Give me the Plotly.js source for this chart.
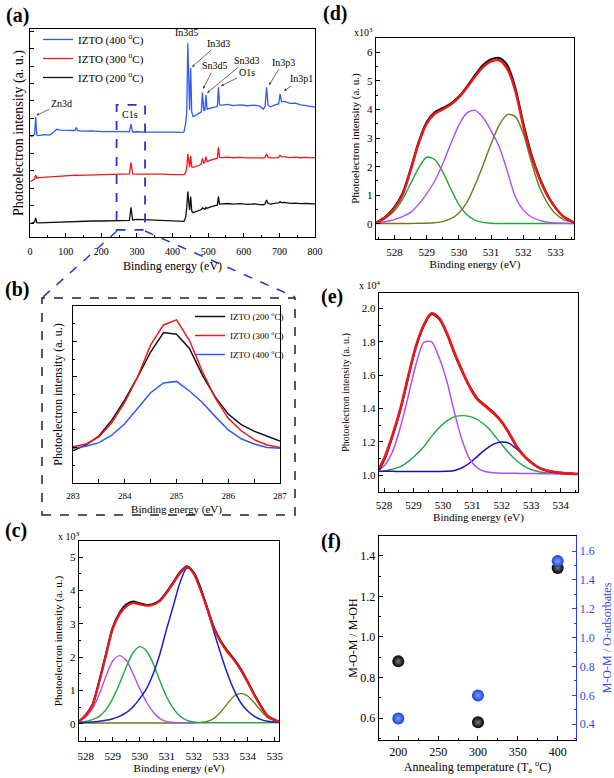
<!DOCTYPE html>
<html>
<head>
<meta charset="utf-8">
<script src="https://cdn.plot.ly/plotly-3.0.1.min.js"></script>
<style>html,body{margin:0;padding:0;background:#fff;}#chart{width:614px;height:778px;}</style>
</head>
<body>
<div id="chart"></div>
<script>
// ---------- (a) XPS survey spectra ----------
const aEnergy = [2,8,13,16,19,25,40,55,65,75,85,100,115,126,130,134,150,175,200,225,250,270,279,283.5,288,300,325,350,375,400,420,432,437,440,443,446,448,451,454,458,465,475,481,484,488,491,494,497,505,515,523,526,529,532,540,555,570,590,610,630,645,655,660,664,668,675,690,698,702,706,715,730,745,760,775,790,800];
const a400 = [48.2,48.6,49.5,57.7,49.0,48.7,49.2,49.0,50.2,51.8,51.4,51.2,51.0,51.2,52.6,51.1,50.9,51.0,50.7,50.8,50.6,50.7,50.6,54.3,50.5,50.6,50.4,50.5,50.3,50.4,50.3,50.4,54.5,60.0,93.1,63.0,61.0,81.2,60.0,57.8,58.6,59.5,60.2,69.4,60.8,61.0,68.3,61.5,62.0,62.3,62.6,63.0,72.0,63.5,63.4,63.8,63.2,63.5,63.1,63.4,62.9,61.4,63.0,72.0,63.5,62.6,63.6,64.0,68.8,65.0,65.2,64.2,64.4,63.5,63.2,62.6,62.4];
const a300 = [26.6,27.5,28.0,29.8,28.3,28.5,28.7,28.9,29.0,29.2,29.3,29.4,29.5,29.6,29.7,29.6,29.7,29.8,29.9,30.0,30.1,30.2,30.3,35.9,30.3,30.2,30.3,30.1,30.2,30.0,30.1,30.0,31.0,33.5,39.9,34.0,33.6,38.9,33.8,33.5,33.8,34.5,35.2,37.8,35.5,36.0,38.6,36.2,36.8,37.2,37.6,37.9,43.1,38.3,38.2,38.4,38.1,38.3,38.0,38.2,38.0,37.9,38.3,39.9,38.4,38.0,38.3,38.2,39.3,38.6,38.5,38.2,38.4,38.1,38.3,38.0,38.2];
const a200 = [6.6,6.8,7.2,9.2,6.9,6.8,6.9,7.0,7.1,7.3,7.3,7.4,7.5,7.5,7.6,7.5,7.6,7.7,7.7,7.8,7.9,7.9,8.0,14.3,8.2,8.5,8.3,8.1,7.9,7.8,7.6,7.5,9.5,14.0,21.8,13.5,13.0,19.4,12.5,11.7,12.2,12.8,13.2,14.0,13.4,13.3,14.2,13.8,14.4,14.8,15.2,15.4,19.6,15.8,15.9,16.1,15.8,16.0,15.7,15.9,15.6,15.5,16.0,17.8,16.1,15.8,16.3,16.4,17.0,16.5,16.6,16.2,16.3,16.0,16.1,15.8,15.9];
const aPeakNames = ['Zn3d','In3d3','Sn3d5','Sn3d3','O1s','In3p3','In3p1'];
const aPeakTipE = [18,454.7,485.6,496.8,536,671,713];
const aPeakTipV = [58.5,81.7,71.2,69.2,72.6,73,70.2];

// ---------- (b) C1s ----------
const bEnergy = [283,283.25,283.5,283.75,284,284.25,284.5,284.75,285,285.25,285.5,285.75,286,286.25,286.5,286.75,287];
const b200 = [18.2,21.5,26.5,35.5,47,60,74,85,84,76,61,48.5,39,33,29.3,26.5,23.7];
const b300 = [20.5,22,26,34,45.5,60,78,89.3,92.2,80.5,63,48,36.5,29.5,24.5,21.5,20.1];
const b400 = [19.6,20.8,22.8,27,33.5,42.5,51,56.5,57.4,52,45.5,37.5,30,25,22,20.1,19.6];

// ---------- (c) O1s fit (x10^3) ----------
const cEnergy = [527.75,528,528.25,528.5,528.75,529,529.25,529.5,529.75,530,530.25,530.5,530.75,531,531.25,531.5,531.75,532,532.25,532.5,532.75,533,533.25,533.5,533.75,534,534.25,534.5,534.75,535.16];
const cData = [0.06,0.26,0.57,1.28,2.08,2.88,3.32,3.57,3.66,3.61,3.56,3.59,3.70,3.95,4.25,4.55,4.72,4.52,4.05,3.47,2.88,2.48,2.18,1.93,1.63,1.26,0.87,0.52,0.23,0.06];
const cFit = [0.06,0.25,0.55,1.25,2.05,2.85,3.28,3.52,3.62,3.58,3.54,3.57,3.68,3.93,4.22,4.52,4.70,4.50,4.02,3.45,2.85,2.45,2.15,1.90,1.60,1.24,0.85,0.50,0.22,0.06];
const cPeak1 = [0.10,0.20,0.45,0.88,1.42,1.88,2.04,1.90,1.50,1.05,0.65,0.35,0.15,0.06,0.04,0.03,0.03,0.03,0.03,0.03,0.03,0.03,0.03,0.03,0.03,0.03,0.03,0.03,0.03,0.03];
const cPeak2 = [0.04,0.07,0.12,0.22,0.42,0.75,1.20,1.70,2.12,2.31,2.18,1.80,1.28,0.80,0.45,0.22,0.10,0.05,0.03,0.03,0.03,0.03,0.03,0.03,0.03,0.03,0.03,0.03,0.03,0.03];
const cPeak3 = [0.03,0.04,0.05,0.07,0.10,0.15,0.22,0.33,0.50,0.75,1.05,1.50,2.10,2.85,3.55,4.25,4.67,4.55,4.10,3.45,2.75,2.10,1.50,1.00,0.62,0.38,0.22,0.12,0.07,0.04];
const cPeak4 = [0.02,0.02,0.02,0.02,0.02,0.02,0.02,0.02,0.02,0.02,0.02,0.02,0.02,0.02,0.02,0.02,0.02,0.02,0.04,0.07,0.16,0.35,0.60,0.83,0.91,0.83,0.62,0.38,0.18,0.05];

// ---------- (d) O1s fit (x10^3) ----------
const dEnergy = [527.43,527.75,528,528.25,528.5,528.75,529,529.25,529.5,529.75,530,530.25,530.5,530.75,531,531.25,531.5,531.75,532,532.25,532.5,532.75,533,533.25,533.57];
const dData = [0.03,0.27,0.58,1.05,1.90,2.85,3.55,3.90,4.05,4.20,4.45,4.80,5.20,5.55,5.76,5.80,5.55,4.75,3.50,2.42,1.62,1.00,0.56,0.25,0.05];
const dFit = [0.03,0.25,0.55,1.00,1.85,2.80,3.50,3.85,4.00,4.17,4.42,4.76,5.15,5.48,5.68,5.72,5.42,4.65,3.40,2.35,1.58,0.98,0.55,0.25,0.05];
const dPeak1 = [0.06,0.22,0.45,0.85,1.40,1.95,2.33,2.25,1.82,1.22,0.68,0.32,0.13,0.05,0.02,0.01,0.01,0.01,0.01,0.01,0.01,0.01,0.01,0.01,0.01];
const dPeak2 = [0.03,0.08,0.15,0.25,0.40,0.68,1.05,1.50,2.10,2.80,3.45,3.88,3.97,3.72,3.25,2.70,1.85,0.95,0.48,0.24,0.12,0.06,0.03,0.02,0.01];
const dPeak3 = [0.01,0.01,0.01,0.01,0.01,0.02,0.02,0.04,0.08,0.18,0.38,0.75,1.35,2.05,2.80,3.45,3.82,3.75,3.15,2.15,1.28,0.72,0.35,0.15,0.05];

// ---------- (e) O1s fit (x10^4) ----------
const eEnergy = [527.83,528.03,528.29,528.56,528.82,529.08,529.35,529.61,529.88,530.14,530.40,530.67,530.93,531.19,531.46,531.72,531.99,532.25,532.51,532.78,533.04,533.30,533.57,533.83,534.36,534.59];
const eData = [1.03,1.10,1.235,1.395,1.585,1.765,1.895,1.965,1.935,1.845,1.725,1.615,1.525,1.455,1.415,1.375,1.322,1.25,1.17,1.11,1.07,1.04,1.025,1.016,1.008,1.006];
const eFit = [1.04,1.11,1.24,1.40,1.59,1.77,1.90,1.97,1.94,1.85,1.73,1.62,1.52,1.45,1.41,1.37,1.32,1.25,1.17,1.11,1.07,1.04,1.025,1.016,1.008,1.006];
const ePeak1 = [1.03,1.06,1.14,1.29,1.47,1.66,1.795,1.80,1.70,1.56,1.37,1.20,1.09,1.04,1.02,1.013,1.011,1.010,1.010,1.009,1.009,1.008,1.008,1.008,1.007,1.006];
const ePeak2 = [1.02,1.025,1.035,1.05,1.08,1.12,1.17,1.23,1.285,1.325,1.35,1.356,1.35,1.33,1.295,1.245,1.185,1.13,1.085,1.05,1.03,1.018,1.012,1.009,1.006,1.005];
const ePeak3 = [1.022,1.022,1.022,1.021,1.021,1.021,1.021,1.021,1.021,1.022,1.027,1.045,1.075,1.115,1.155,1.185,1.198,1.19,1.155,1.11,1.07,1.04,1.022,1.013,1.008,1.006];

// ---------- (f) ratios ----------
const fTemp = [200,300,400];
const fMOMtoMOH = [0.88,0.58,1.34];
const fMOMtoOads = [0.44,0.60,1.53];

// ---------- layout helpers (pixel -> paper) ----------
const W = 614, H = 778;
const FONT = 'Liberation Serif, Times New Roman, serif';
const px = v => v / W;
const py = v => 1 - v / H;
const dX = (l, r) => [px(l), px(r)];
const dY = (t, b) => [py(b), py(t)];

const BLACK = '#111111', RED = '#f2161b', BLUEA = '#2e5cf0', MAG = '#b44cf0', GRN = '#1ea83c', OLV = '#6c7b1e', DBLUE = '#1b20c4';

function ax(o) {
  return Object.assign({
    showline: true, linecolor: '#000', linewidth: 1.4, mirror: true,
    ticks: 'inside', ticklen: 4, tickwidth: 1, tickcolor: '#000',
    showgrid: false, zeroline: false, automargin: false,
    tickfont: {family: FONT, size: 11, color: '#000'}
  }, o);
}
function ttl(text, size, standoff, color) {
  return {text: text, font: {family: FONT, size: size, color: color || '#000'}, standoff: standoff};
}

const traces = [];
function line(x, y, xa, ya, color, width, extra) {
  traces.push(Object.assign({type: 'scatter', mode: 'lines', x: x, y: y, xaxis: xa, yaxis: ya,
    line: {color: color, width: width}, showlegend: false, hoverinfo: 'skip'}, extra || {}));
}

// (a)
line(aEnergy, a400, 'x', 'y', BLUEA, 1.3, {name: 'IZTO (400 <sup>o</sup>C)', showlegend: true, legend: 'legend'});
line(aEnergy, a300, 'x', 'y', RED, 1.3, {name: 'IZTO (300 <sup>o</sup>C)', showlegend: true, legend: 'legend'});
line(aEnergy, a200, 'x', 'y', BLACK, 1.3, {name: 'IZTO (200 <sup>o</sup>C)', showlegend: true, legend: 'legend'});
// (b)
line(bEnergy, b200, 'x2', 'y2', BLACK, 1.5, {name: 'IZTO (200 <sup>o</sup>C)', showlegend: true, legend: 'legend2'});
line(bEnergy, b300, 'x2', 'y2', RED, 1.5, {name: 'IZTO (300 <sup>o</sup>C)', showlegend: true, legend: 'legend2'});
line(bEnergy, b400, 'x2', 'y2', BLUEA, 1.5, {name: 'IZTO (400 <sup>o</sup>C)', showlegend: true, legend: 'legend2'});
// (c)
const sp = {shape: 'spline', smoothing: 0.8};
line(cEnergy, cPeak4, 'x3', 'y3', OLV, 1.4, {line: Object.assign({color: OLV, width: 1.4}, sp)});
line(cEnergy, cPeak1, 'x3', 'y3', MAG, 1.4, {line: Object.assign({color: MAG, width: 1.4}, sp)});
line(cEnergy, cPeak2, 'x3', 'y3', GRN, 1.4, {line: Object.assign({color: GRN, width: 1.4}, sp)});
line(cEnergy, cPeak3, 'x3', 'y3', DBLUE, 1.5, {line: Object.assign({color: DBLUE, width: 1.5}, sp)});
line(cEnergy, cData, 'x3', 'y3', BLACK, 2.2, {line: Object.assign({color: BLACK, width: 2.2}, sp)});
line(cEnergy, cFit, 'x3', 'y3', RED, 2.2, {line: Object.assign({color: RED, width: 2.2}, sp)});
// (d)
line(dEnergy, dPeak1, 'x4', 'y4', GRN, 1.4, {line: Object.assign({color: GRN, width: 1.4}, sp)});
line(dEnergy, dPeak2, 'x4', 'y4', MAG, 1.4, {line: Object.assign({color: MAG, width: 1.4}, sp)});
line(dEnergy, dPeak3, 'x4', 'y4', OLV, 1.4, {line: Object.assign({color: OLV, width: 1.4}, sp)});
line(dEnergy, dData, 'x4', 'y4', BLACK, 2.2, {line: Object.assign({color: BLACK, width: 2.2}, sp)});
line(dEnergy, dFit, 'x4', 'y4', RED, 2.4, {line: Object.assign({color: RED, width: 2.4}, sp)});
// (e)
line(eEnergy, ePeak2, 'x5', 'y5', GRN, 1.4, {line: Object.assign({color: GRN, width: 1.4}, sp)});
line(eEnergy, ePeak3, 'x5', 'y5', '#1414a8', 1.5, {line: Object.assign({color: '#1414a8', width: 1.5}, sp)});
line(eEnergy, ePeak1, 'x5', 'y5', MAG, 1.5, {line: Object.assign({color: MAG, width: 1.5}, sp)});
line(eEnergy, eData, 'x5', 'y5', BLACK, 2.2, {line: Object.assign({color: BLACK, width: 2.2}, sp)});
line(eEnergy, eFit, 'x5', 'y5', RED, 2.6, {line: Object.assign({color: RED, width: 2.6}, sp)});
// (f)
traces.push({type: 'scatter', mode: 'markers', x: fTemp, y: fMOMtoMOH, xaxis: 'x6', yaxis: 'y6', showlegend: false,
  marker: {size: 12, color: '#000', gradient: {type: 'radial', color: '#7a7a7a'}}});
traces.push({type: 'scatter', mode: 'markers', x: fTemp, y: fMOMtoOads, xaxis: 'x6', yaxis: 'y7', showlegend: false,
  marker: {size: 12, color: '#1f3fd6', gradient: {type: 'radial', color: '#6fa6ff'}}});

// annotations
const ann = [];
function note(text, x, y, size, bold, extra) {
  ann.push(Object.assign({xref: 'paper', yref: 'paper', x: px(x), y: py(y), text: bold ? '<b>' + text + '</b>' : text,
    showarrow: false, font: {family: FONT, size: size, color: '#000'}, xanchor: 'left', yanchor: 'middle'}, extra || {}));
}
note('(a)', 4, 15, 20, true);
note('(b)', 3, 289, 20, true);
note('(c)', 3, 530, 20, true);
note('(d)', 321, 14, 20, true);
note('(e)', 319, 296, 20, true);
note('(f)', 319, 541, 20, true);
note('x 10<sup>3</sup>', 56, 536, 10, false);
note('x10<sup>3</sup>', 352, 32, 10, false);
note('x 10<sup>4</sup>', 357, 285, 10, false);

const aOffsets = [[25,-12],[27,-24],[12,-23],[40,-33],[26,-13],[14,-23],[17,-12]];
aPeakNames.forEach((n, i) => {
  ann.push({xref: 'x', yref: 'y', x: aPeakTipE[i], y: aPeakTipV[i], text: n, showarrow: true,
    ax: aOffsets[i][0], ay: aOffsets[i][1], arrowhead: 2, arrowsize: 0.7, arrowwidth: 0.8, arrowcolor: '#444',
    font: {family: FONT, size: 10, color: '#000'}});
});
ann.push({xref: 'x', yref: 'y', x: 437.9, y: 98.1, text: 'In3d5', showarrow: false, font: {family: FONT, size: 10, color: '#000'}});
ann.push({xref: 'x', yref: 'y', x: 280.7, y: 59.1, text: 'C1s', showarrow: false, font: {family: FONT, size: 10, color: '#000'}});

const shapes = [
  {type: 'rect', xref: 'x', yref: 'y', x0: 243, x1: 323, y0: 3.4, y1: 63.5, line: {color: '#2435c8', width: 1.8, dash: 'dash'}},
  {type: 'line', xref: 'paper', yref: 'paper', x0: px(117), y0: py(231), x1: px(43), y1: py(297), line: {color: '#2435c8', width: 1.5, dash: 'dash'}},
  {type: 'line', xref: 'paper', yref: 'paper', x0: px(145), y0: py(231), x1: px(295), y1: py(297), line: {color: '#2435c8', width: 1.5, dash: 'dash'}},
  {type: 'rect', xref: 'paper', yref: 'paper', x0: px(42), x1: px(295), y0: py(515), y1: py(298), line: {color: '#222', width: 1.5, dash: 'dash'}}
];

const layout = {
  width: W, height: H, margin: {l: 0, r: 0, t: 0, b: 0}, paper_bgcolor: '#fff', plot_bgcolor: 'rgba(0,0,0,0)',
  font: {family: FONT, color: '#000'},
  showlegend: true,
  legend: {x: px(38), y: py(25), xanchor: 'left', yanchor: 'top', bgcolor: 'rgba(0,0,0,0)',
    font: {family: FONT, size: 11}, itemwidth: 30, tracegroupgap: 0},
  legend2: {x: px(190), y: py(302), xanchor: 'left', yanchor: 'top', bgcolor: 'rgba(0,0,0,0)',
    font: {family: FONT, size: 9}, itemwidth: 30},
  // (a)
  xaxis: ax({domain: dX(30, 315), anchor: 'y', range: [0, 800], dtick: 100, minor: {ticks: 'inside', ticklen: 2, dtick: 50},
    ticklabelstandoff: 5, tickfont: {family: FONT, size: 10}, title: ttl('Binding energy (eV)', 12, 5)}),
  yaxis: ax({domain: dY(29, 237), anchor: 'x', range: [0, 100], tick0: 6.6, dtick: 8.4, showticklabels: false,
    title: ttl('Photoelectron intensity (a. u.)', 14, 1)}),
  // (b)
  xaxis2: ax({domain: dX(73, 280), anchor: 'y2', range: [283, 287], dtick: 1, minor: {ticks: 'inside', ticklen: 4, dtick: 0.5},
    ticklabelstandoff: 4, tickfont: {family: FONT, size: 9}, title: ttl('Binding energy (eV)', 11, 5)}),
  yaxis2: ax({domain: dY(306, 483), anchor: 'x2', range: [0, 100], tick0: 0, dtick: 20, showticklabels: false,
    minor: {ticks: 'inside', ticklen: 2, dtick: 10}, title: ttl('Photoelectron intensity (a. u.)', 12, 6)}),
  // (c)
  xaxis3: ax({domain: dX(79, 279), anchor: 'y3', range: [527.75, 535.16], dtick: 1, minor: {ticks: 'inside', ticklen: 2, dtick: 0.5},
    ticklabelstandoff: 4, title: ttl('Binding energy (eV)', 11, 0)}),
  yaxis3: ax({domain: dY(541, 741), anchor: 'x3', range: [-0.52, 5.48], dtick: 1, minor: {ticks: 'inside', ticklen: 2, dtick: 0.5},
    title: ttl('Photoelectron intensity (a. u.)', 11, 5)}),
  // (d)
  xaxis4: ax({domain: dX(376, 574), anchor: 'y4', range: [527.43, 533.57], dtick: 1, minor: {ticks: 'inside', ticklen: 2, dtick: 0.5},
    ticklabelstandoff: 2, title: ttl('Binding energy (eV)', 11, 3)}),
  yaxis4: ax({domain: dY(38, 239), anchor: 'x4', range: [-0.53, 6.5], dtick: 1, minor: {ticks: 'inside', ticklen: 2, dtick: 0.5},
    title: ttl('Photoelectron intensity (a. u.)', 11, 5)}),
  // (e)
  xaxis5: ax({domain: dX(379, 578), anchor: 'y5', range: [527.83, 534.59], dtick: 1, minor: {ticks: 'inside', ticklen: 2, dtick: 0.5},
    ticklabelstandoff: 2, title: ttl('Binding energy (eV)', 11, 3)}),
  yaxis5: ax({domain: dY(293, 492), anchor: 'x5', range: [0.898, 2.092], dtick: 0.2, tickformat: '.1f',
    minor: {ticks: 'inside', ticklen: 2, dtick: 0.1}, title: ttl('Photoelectron intensity (a. u.)', 10, 10)}),
  // (f)
  xaxis6: ax({domain: dX(379, 576), anchor: 'y6', range: [175.8, 423], dtick: 50, minor: {ticks: 'inside', ticklen: 2, dtick: 25},
    tickfont: {family: FONT, size: 12}, title: ttl('Annealing temperature (T<sub>a</sub> <sup>o</sup>C)', 12, 2)}),
  yaxis6: ax({domain: dY(536, 740), anchor: 'x6', range: [0.493, 1.497], dtick: 0.2, tickformat: '.1f', mirror: false,
    minor: {ticks: 'inside', ticklen: 2, dtick: 0.1}, tickfont: {family: FONT, size: 12}, title: ttl('M-O-M / M-OH', 12, 0)}),
  yaxis7: ax({overlaying: 'y6', anchor: 'x6', side: 'right', range: [0.291, 1.704], dtick: 0.2, tickformat: '.1f', mirror: false,
    linecolor: '#2a3cf0', tickcolor: '#2a3cf0', minor: {ticks: 'inside', ticklen: 2, dtick: 0.1, tickcolor: '#2a3cf0'},
    tickfont: {family: FONT, size: 12, color: '#3048f0'}, title: ttl('M-O-M / O-adsorbates', 12, 12, '#3048f0')}),
  annotations: ann,
  shapes: shapes
};

Plotly.newPlot('chart', traces, layout, {staticPlot: true, displayModeBar: false});
</script>
</body>
</html>
